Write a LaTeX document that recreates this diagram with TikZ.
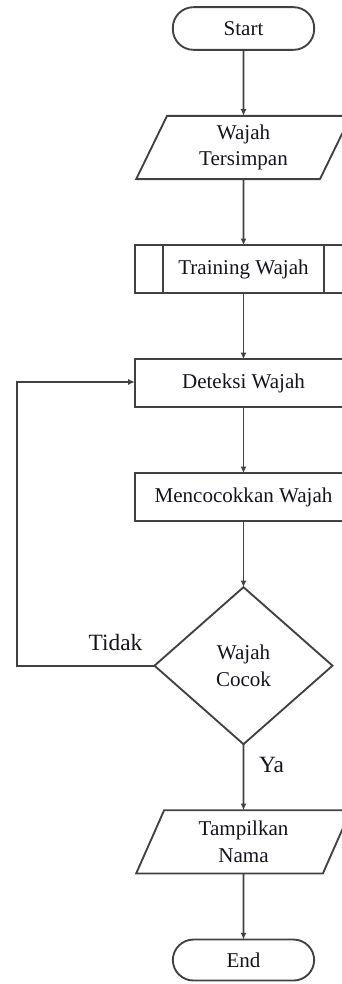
\documentclass[tikz,border=0pt]{standalone}
\usepackage{fontspec}
\setmainfont{Liberation Serif}
\usepackage{tikz}
\usepackage{xcolor}
\usetikzlibrary{arrows.meta,positioning,shapes.geometric}
\definecolor{linegray}{RGB}{65,65,65}
\definecolor{textdark}{RGB}{20,20,30}

\begin{document}
\begin{tikzpicture}[
    x=0.75pt,y=-0.75pt,
    node distance=49.5pt,
    every node/.style={font=\fontsize{15.8}{20}\selectfont,text=textdark,outer sep=0pt},
    term/.style={rectangle,rounded corners=15.5pt,draw=linegray,line width=1.4pt,
      minimum width=106pt,minimum height=32pt,inner sep=0pt},
    io/.style={trapezium,trapezium left angle=56,trapezium right angle=124,
      trapezium stretches body,draw=linegray,line width=1.4pt,
      minimum width=161pt,minimum height=47.5pt,inner sep=0pt,align=center},
    proc/.style={rectangle,draw=linegray,line width=1.4pt,
      minimum width=163pt,minimum height=36pt,inner sep=0pt,align=center},
    decision/.style={diamond,draw=linegray,line width=1.4pt,
      minimum width=133.5pt,minimum height=117.75pt,inner sep=0pt,align=center},
    lbl/.style={font=\fontsize{17.5}{20}\selectfont},
    arrow/.style={-{Latex[length=5pt,width=4.5pt]},draw=linegray,line width=1.4pt}
  ]
    \clip (0,0) rectangle (342,984);
    \node[term] (start) at (243.5,28.5) {Start};
    \node[io,below=of start] (wajah) {Wajah\\Tersimpan};
    \node[proc,below=of wajah] (train) {Training Wajah};
    \node[proc,below=of train] (deteksi) {Deteksi Wajah};
    \node[proc,below=of deteksi] (cocokkan) {Mencocokkan Wajah};
    \node[decision,below=of cocokkan] (cocok) {Wajah\\Cocok};
    \node[io,below=of cocok] (nama) {Tampilkan\\Nama};
    \node[term,minimum height=30.75pt,below=of nama] (end) {End};
    % predefined process bars
    \draw[linegray,line width=1.4pt] ([xshift=21pt]train.north west) -- ([xshift=21pt]train.south west);
    \draw[linegray,line width=1.4pt] ([xshift=-21pt]train.north east) -- ([xshift=-21pt]train.south east);
    \coordinate (loopa) at (17,667);
    \coordinate (loopb) at (17,382);
    \draw[arrow] (start) -- (wajah);
    \draw[arrow] (wajah) -- (train);
    \draw[arrow] (train) -- (deteksi);
    \draw[arrow] (deteksi) -- (cocokkan);
    \draw[arrow] (cocokkan) -- (cocok);
    \draw[arrow] (cocok) -- (nama);
    \draw[arrow] (nama) -- (end);
    \draw[arrow] (cocok.west) -- (loopa |- cocok.west) -- (loopb) -- (loopb -| deteksi.west);
    \node[lbl] (tidak) at (115.5,643) {Tidak};
    \node[lbl] (ya) at (271.5,765) {Ya};
  \end{tikzpicture}
\end{document}
